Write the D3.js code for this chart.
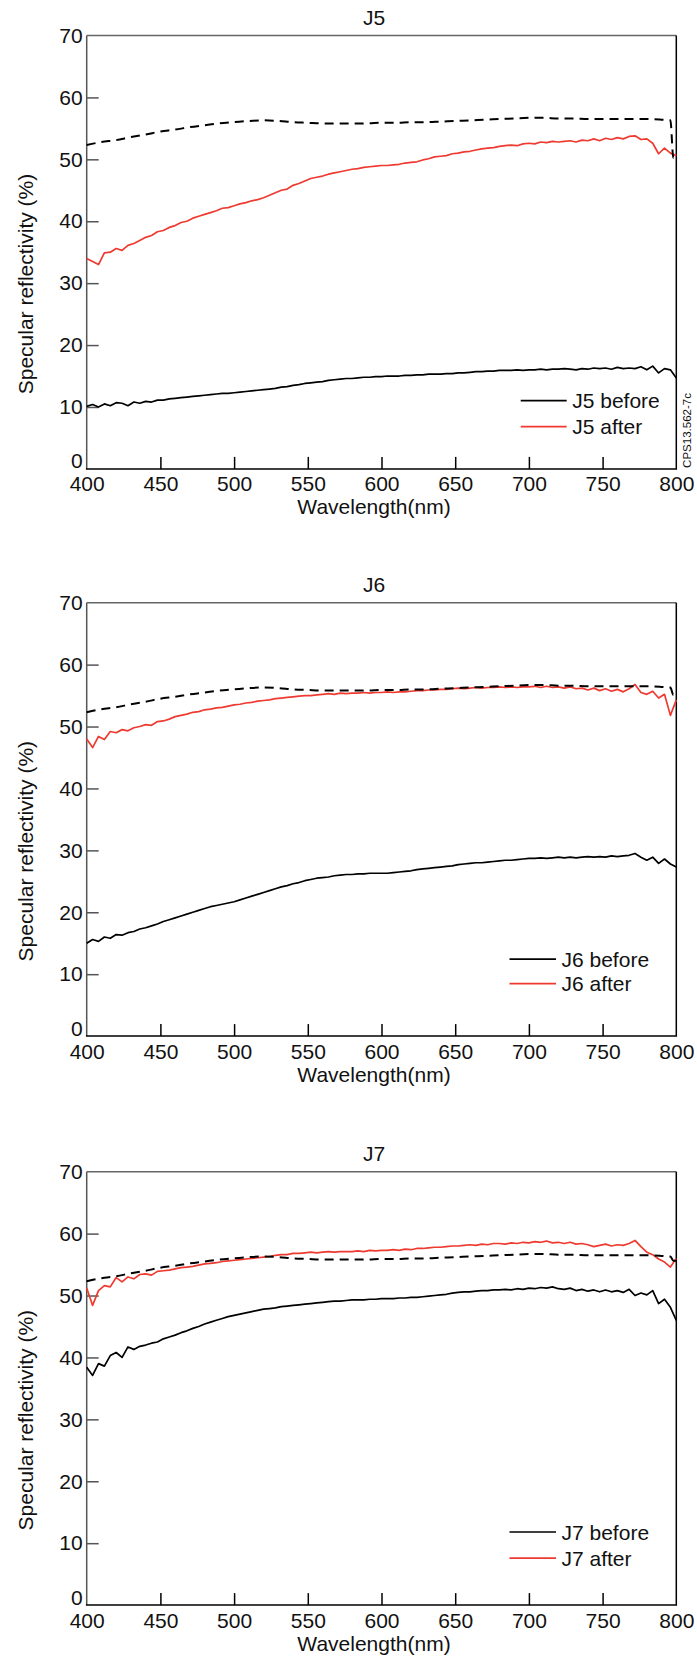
<!DOCTYPE html>
<html><head><meta charset="utf-8">
<script src="https://cdn.jsdelivr.net/npm/d3@7"></script>
<style>
body{margin:0;background:#fff}
svg{display:block}
text{font-family:"Liberation Sans",Arial,Helvetica,sans-serif;fill:#111}
</style>
</head><body>
<svg id="chart" width="697" height="1656"></svg>
<script>
// ---------- data ----------
const wavelengths = d3.range(400, 801, 4); // 400..800 nm, 4 nm step (101 points)

const j5Before = [10.1,10.4,10.0,10.5,10.2,10.7,10.6,10.2,10.8,10.6,
10.9,10.8,11.1,11.1,11.3,11.4,11.5,11.6,11.7,11.8,
11.9,12.0,12.1,12.2,12.2,12.3,12.4,12.5,12.6,12.7,
12.8,12.9,13.0,13.2,13.3,13.5,13.6,13.8,13.9,14.0,
14.1,14.3,14.4,14.5,14.6,14.6,14.7,14.8,14.8,14.9,
14.9,15.0,15.0,15.0,15.1,15.1,15.2,15.2,15.3,15.3,
15.3,15.4,15.4,15.5,15.5,15.6,15.7,15.7,15.8,15.8,
15.9,15.9,15.9,16.0,15.9,16.0,16.0,16.1,16.0,16.1,
16.1,16.2,16.1,16.0,16.2,16.1,16.3,16.2,16.3,16.1,
16.4,16.2,16.3,16.2,16.5,16.0,16.6,15.5,16.2,16.0,
14.7];

const j5After = [34.0,33.5,33.0,34.9,35.0,35.6,35.3,36.1,36.4,36.9,
37.4,37.7,38.3,38.5,39.0,39.3,39.8,40.0,40.5,40.8,
41.1,41.4,41.7,42.1,42.2,42.5,42.8,43.0,43.3,43.5,
43.8,44.2,44.6,45.0,45.2,45.8,46.1,46.5,46.9,47.1,
47.3,47.6,47.8,48.0,48.2,48.4,48.5,48.7,48.8,48.9,
49.0,49.0,49.1,49.2,49.4,49.5,49.6,49.9,50.1,50.4,
50.5,50.6,50.9,51.0,51.2,51.3,51.5,51.7,51.8,51.9,
52.1,52.2,52.3,52.2,52.5,52.6,52.5,52.8,52.7,52.9,
52.8,52.9,53.0,52.8,53.1,53.0,53.3,53.0,53.4,53.2,
53.5,53.3,53.7,53.8,53.2,53.3,52.6,50.9,51.8,51.0,
50.6];

const j6Before = [15.0,15.6,15.3,16.0,15.8,16.4,16.3,16.7,16.9,17.3,
17.5,17.8,18.1,18.5,18.8,19.1,19.4,19.7,20.0,20.3,
20.6,20.9,21.1,21.3,21.5,21.7,22.0,22.3,22.6,22.9,
23.2,23.5,23.8,24.1,24.3,24.6,24.8,25.1,25.3,25.5,
25.6,25.7,25.9,26.0,26.1,26.1,26.2,26.2,26.3,26.3,
26.3,26.3,26.4,26.5,26.6,26.7,26.9,27.0,27.1,27.2,
27.3,27.4,27.5,27.7,27.8,27.9,28.0,28.0,28.1,28.2,
28.3,28.4,28.4,28.5,28.6,28.7,28.7,28.8,28.7,28.8,
28.9,28.8,28.9,28.8,28.9,29.0,28.9,29.0,28.9,29.1,
29.0,29.1,29.2,29.5,28.9,28.4,28.9,27.9,28.6,27.8,
27.3];

const j6After = [48.0,46.6,48.4,47.9,49.2,49.0,49.5,49.3,49.8,50.0,
50.3,50.2,50.8,50.9,51.2,51.6,51.8,52.0,52.3,52.4,
52.7,52.8,53.0,53.1,53.3,53.5,53.6,53.8,53.9,54.1,
54.2,54.3,54.5,54.6,54.7,54.8,54.9,55.0,55.0,55.1,
55.2,55.3,55.2,55.4,55.3,55.4,55.4,55.5,55.4,55.5,
55.5,55.6,55.5,55.6,55.6,55.7,55.8,55.8,55.9,55.9,
56.0,56.0,56.1,56.2,56.1,56.2,56.3,56.2,56.3,56.3,
56.4,56.3,56.4,56.3,56.4,56.4,56.5,56.3,56.5,56.3,
56.4,56.2,56.4,56.1,56.2,55.9,56.2,55.8,56.1,55.7,
56.0,55.6,56.1,56.8,55.5,55.2,55.7,54.6,55.2,51.8,
54.3];

const j7Before = [38.4,37.1,39.0,38.6,40.3,40.8,40.0,41.7,41.3,41.8,
42.0,42.3,42.5,43.0,43.3,43.6,44.0,44.3,44.7,45.0,
45.4,45.7,46.0,46.3,46.6,46.8,47.0,47.2,47.4,47.6,
47.8,47.9,48.0,48.2,48.3,48.4,48.5,48.6,48.7,48.8,
48.9,49.0,49.1,49.1,49.2,49.3,49.3,49.3,49.4,49.4,
49.5,49.5,49.5,49.6,49.6,49.7,49.7,49.8,49.9,50.0,
50.1,50.2,50.4,50.5,50.6,50.6,50.7,50.8,50.8,50.9,
50.9,51.0,50.9,51.1,51.0,51.2,51.1,51.3,51.2,51.4,
51.1,51.0,51.2,50.8,51.0,50.7,50.9,50.6,50.9,50.6,
50.8,50.5,51.0,50.0,50.4,50.1,50.8,48.7,49.4,48.1,
46.0];

const j7After = [51.2,48.4,50.8,51.6,51.4,52.9,52.2,53.0,52.7,53.4,
53.5,53.3,53.9,54.0,54.1,54.3,54.5,54.6,54.7,54.9,
55.1,55.2,55.3,55.5,55.6,55.7,55.8,55.9,56.0,56.1,
56.2,56.3,56.5,56.6,56.6,56.8,56.8,56.9,57.0,56.9,
57.0,57.1,57.0,57.1,57.1,57.1,57.2,57.1,57.3,57.2,
57.3,57.3,57.4,57.3,57.5,57.4,57.6,57.6,57.7,57.8,
57.8,57.9,58.0,58.0,58.1,58.2,58.1,58.3,58.2,58.4,
58.4,58.3,58.5,58.4,58.6,58.5,58.7,58.6,58.8,58.5,
58.6,58.4,58.6,58.3,58.4,58.2,57.9,58.1,58.3,58.0,
58.2,58.1,58.4,58.9,57.9,57.0,56.6,55.9,55.4,54.6,
56.0];

// reference (dashed) curve, shared by all panels
const refWavelengths = [400,410,420,430,440,450,460,470,480,490,500,510,520,530,540,550,560,570,580,590,
600,610,620,630,640,650,660,670,680,690,700,710,720,730,740,750,760,770,780,790,796];
const reference = [52.3,52.8,53.1,53.6,54.0,54.5,54.8,55.2,55.5,55.8,56.0,56.2,56.3,56.2,56.0,55.9,55.8,55.8,55.8,55.8,
55.9,55.9,56.0,56.0,56.1,56.2,56.3,56.4,56.5,56.6,56.7,56.7,56.6,56.6,56.5,56.5,56.5,56.5,56.5,56.4,56.3];
const refEndWavelengths = [798, 800];
const refEnd = [50.2, 55.1, 55.6]; // last value per panel

const panelTitles = ["J5", "J6", "J7"];
const yTickValues = [0,10,20,30,40,50,60,70];
const xTickValues = [400,450,500,550,600,650,700,750,800];

// ---------- layout ----------
const svg = d3.select("#chart");
const left = 86.7, right = 676.3, plotH = 433.4;
const tops = [35.5, 602.7, 1171.7];
const legendPos = [
  {x1:520.7, x2:566.7, y1:365.2, y2:391.2},
  {x1:509.5, x2:556, y1:356.5, y2:381},
  {x1:509.5, x2:556, y1:360.3, y2:386.5}
];
const RED = "#ee3a30";
const FONT = 21;

const panels = [
  {before:j5Before, after:j5After},
  {before:j6Before, after:j6After},
  {before:j7Before, after:j7After}
];

const x = d3.scaleLinear().domain([400, 800]).range([left, right]);

panels.forEach((p, pi) => {
  const top = tops[pi], bottom = top + plotH;
  const y = d3.scaleLinear().domain([0, 70]).range([bottom, top]);
  const g = svg.append("g");

  // title
  g.append("text").attr("x", 374).attr("y", top - 18.5)
    .attr("text-anchor", "middle").attr("dominant-baseline", "central")
    .style("font-size", FONT + "px").text(panelTitles[pi]);

  // y axis
  const ya = g.append("g").attr("transform", `translate(${left},0)`)
    .call(d3.axisLeft(y).tickValues(yTickValues).tickSizeInner(-12).tickSizeOuter(0).tickPadding(4));
  ya.select(".domain").remove();
  ya.selectAll(".tick line").attr("stroke", "#555").attr("stroke-width", 1.5)
    .filter(d => d === 0 || d === 70).remove();
  ya.selectAll(".tick text").style("font-size", FONT + "px").attr("fill", "#111")
    .attr("font-family", null)
    .attr("dy", d => d === 0 ? "-0.05em" : "0.32em");

  // x axis
  const xa = g.append("g").attr("transform", `translate(0,${bottom})`)
    .call(d3.axisBottom(x).tickValues(xTickValues).tickSizeInner(-12).tickSizeOuter(0).tickPadding(7.5));
  xa.select(".domain").remove();
  xa.selectAll(".tick line").attr("stroke", "#000").attr("stroke-width", 1.5)
    .filter(d => d === 400 || d === 800).remove();
  xa.selectAll(".tick text").style("font-size", FONT + "px").attr("fill", "#111").attr("font-family", null);

  // frame
  g.append("line").attr("x1", left).attr("x2", left).attr("y1", top).attr("y2", bottom)
    .attr("stroke", "#555").attr("stroke-width", 1.5);
  g.append("line").attr("x1", left).attr("x2", right).attr("y1", top).attr("y2", top)
    .attr("stroke", "#666").attr("stroke-width", 1.5);
  g.append("line").attr("x1", right).attr("x2", right).attr("y1", top).attr("y2", bottom)
    .attr("stroke", "#000").attr("stroke-width", 1.5);
  g.append("line").attr("x1", left - 0.75).attr("x2", right + 0.75).attr("y1", bottom).attr("y2", bottom)
    .attr("stroke", "#000").attr("stroke-width", 1.5);

  // axis titles
  g.append("text").attr("transform", `translate(25,${top + 248.5}) rotate(-90)`)
    .attr("text-anchor", "middle").attr("dominant-baseline", "central")
    .style("font-size", FONT + "px").text("Specular reflectivity (%)");
  g.append("text").attr("x", 374).attr("y", bottom + 38)
    .attr("text-anchor", "middle").attr("dominant-baseline", "central")
    .style("font-size", FONT + "px").text("Wavelength(nm)");

  // curves
  const line = d3.line().x(d => x(d[0])).y(d => y(d[1]));
  const beforeData = wavelengths.map((w, i) => [w, p.before[i]]);
  const afterData = wavelengths.map((w, i) => [w, p.after[i]]);
  g.append("path").attr("d", line(beforeData)).attr("fill", "none")
    .attr("stroke", "#000").attr("stroke-width", 1.7).attr("stroke-linejoin", "round");
  g.append("path").attr("d", line(afterData)).attr("fill", "none")
    .attr("stroke", RED).attr("stroke-width", 1.7).attr("stroke-linejoin", "round");

  const refData = refWavelengths.map((w, i) => [w, reference[i]])
    .concat(refEndWavelengths.map(w => [w, refEnd[pi]]));
  const refLine = d3.line().x(d => x(d[0])).y(d => y(d[1])).curve(d3.curveMonotoneX);
  g.append("path").attr("d", refLine(refData)).attr("fill", "none")
    .attr("stroke", "#000").attr("stroke-width", 2).attr("stroke-dasharray", "9,6");

  // legend
  const L = legendPos[pi];
  [[L.y1, "#000", " before"], [L.y2, RED, " after"]].forEach(([ly, col, suf]) => {
    g.append("line").attr("x1", L.x1).attr("x2", L.x2).attr("y1", top + ly).attr("y2", top + ly)
      .attr("stroke", col).attr("stroke-width", 1.7);
    g.append("text").attr("x", L.x2 + 5.5).attr("y", top + ly)
      .attr("dominant-baseline", "central").style("font-size", FONT + "px")
      .text(panelTitles[pi] + suf);
  });

  if (pi === 0) {
    g.append("text").attr("transform", `translate(687,${top + 395}) rotate(-90)`)
      .attr("text-anchor", "middle").attr("dominant-baseline", "central")
      .style("font-size", "11.5px").text("CPS13.562-7c");
  }
});
</script>
</body></html>
